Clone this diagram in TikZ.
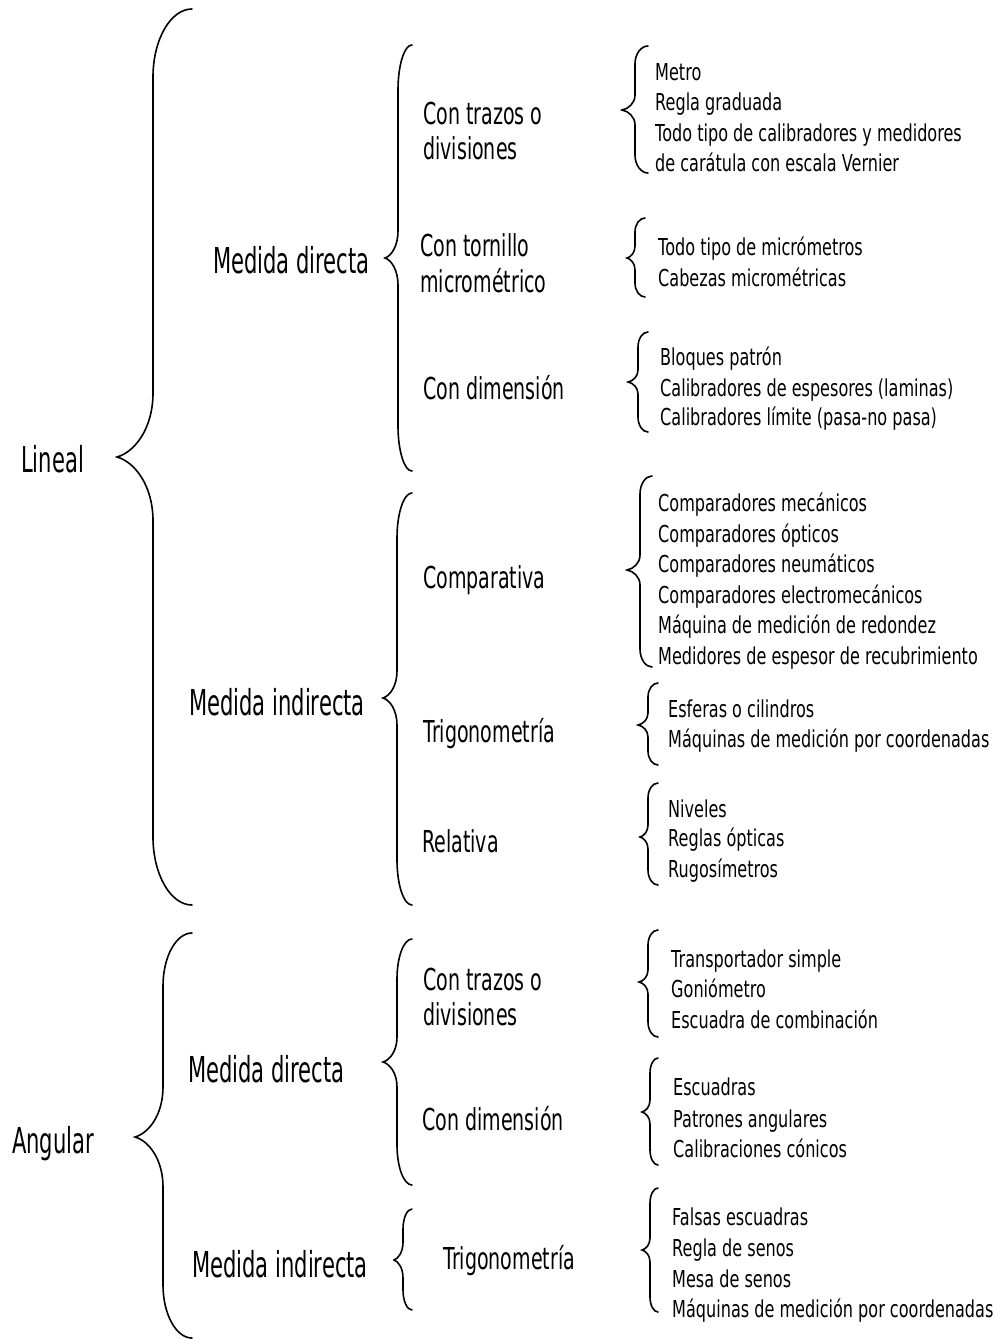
\documentclass[tikz,border=0pt]{standalone}
\usepackage{fontspec}
\newfontfamily\fA{DejaVu Sans}[FakeStretch=0.59]
\newfontfamily\fB{DejaVu Sans}[FakeStretch=0.63]
\newfontfamily\fC{DejaVu Sans}[FakeStretch=0.69]
\newcommand{\mybrace}[8]{% xend xline xtip ytop ymid ybot endDy tipDy
  \draw[bracestyle] (#1,#4) .. controls (#2+0.45*#1-0.45*#2,#4) and (#2,#4+0.45*#7) .. (#2,#4+#7)
  -- (#2,#5-#8) .. controls (#2,#5-0.45*#8) and (#3+0.5*#2-0.5*#3,#5-0.08*#8) .. (#3,#5)
  .. controls (#3+0.5*#2-0.5*#3,#5+0.08*#8) and (#2,#5+0.45*#8) .. (#2,#5+#8)
  -- (#2,#6-#7) .. controls (#2,#6-0.45*#7) and (#2+0.45*#1-0.45*#2,#6) .. (#1,#6);}
\tikzset{
  bracestyle/.style={draw=black, line width=1.6pt, line cap=round},
  lvA/.style={anchor=base west, inner sep=0pt, font=\fA\fontsize{35.7}{40}\selectfont},
  lvB/.style={anchor=base west, inner sep=0pt, font=\fB\fontsize{30.2}{34}\selectfont},
  lvC/.style={anchor=base west, inner sep=0pt, font=\fC\fontsize{23.3}{28}\selectfont},
}
\begin{document}
\begin{tikzpicture}[x=1pt,y=-1pt]
\useasboundingbox (0,0) rectangle (995,1340);
% level 1
\node[lvA] (lineal) at (21,472) {Lineal};
\node[lvA] (angular) at (12,1153) {Angular};
% level 2
\node[lvA] (ldir) at (213,273) {Medida directa};
\node[lvA] (lind) at (189,715) {Medida indirecta};
\node[lvA] (adir) at (188,1082) {Medida directa};
\node[lvA] (aind) at (192,1277) {Medida indirecta};
% level 3
\node[lvB] (ctr1) at (423,125) {Con trazos o};
\node[lvB] (ctr2) at (423,160) {divisiones};
\node[lvB] (ctor1) at (420,257) {Con tornillo};
\node[lvB] (ctor2) at (420,292) {micrométrico};
\node[lvB] (cdim) at (423,399) {Con dimensión};
\node[lvB] (comp) at (423,588) {Comparativa};
\node[lvB] (trig) at (423,742) {Trigonometría};
\node[lvB] (rel) at (422,852) {Relativa};
\node[lvB] (actr1) at (423,990) {Con trazos o};
\node[lvB] (actr2) at (423,1025) {divisiones};
\node[lvB] (acdim) at (422,1130) {Con dimensión};
\node[lvB] (atrig) at (443,1269) {Trigonometría};
% level 4
\node[lvC] (m1) at (655,81) {Metro};
\node[lvC] (m2) at (655,111) {Regla graduada};
\node[lvC] (m3) at (655,142) {Todo tipo de calibradores y medidores};
\node[lvC] (m4) at (655,172) {de carátula con escala Vernier};
\node[lvC] (t1) at (658,255) {Todo tipo de micrómetros};
\node[lvC] (t2) at (658,286) {Cabezas micrométricas};
\node[lvC] (b1) at (660,365) {Bloques patrón};
\node[lvC] (b2) at (660,396) {Calibradores de espesores (laminas)};
\node[lvC] (b3) at (660,425) {Calibradores límite (pasa-no pasa)};
\node[lvC] (c1) at (658,511) {Comparadores mecánicos};
\node[lvC] (c2) at (658,542) {Comparadores ópticos};
\node[lvC] (c3) at (658,572) {Comparadores neumáticos};
\node[lvC] (c4) at (658,603) {Comparadores electromecánicos};
\node[lvC] (c5) at (658,633) {Máquina de medición de redondez};
\node[lvC] (c6) at (658,664) {Medidores de espesor de recubrimiento};
\node[lvC] (e1) at (668,717) {Esferas o cilindros};
\node[lvC] (e2) at (668,747) {Máquinas de medición por coordenadas};
\node[lvC] (n1) at (668,817) {Niveles};
\node[lvC] (n2) at (668,846) {Reglas ópticas};
\node[lvC] (n3) at (668,877) {Rugosímetros};
\node[lvC] (p1) at (671,967) {Transportador simple};
\node[lvC] (p2) at (671,997) {Goniómetro};
\node[lvC] (p3) at (671,1028) {Escuadra de combinación};
\node[lvC] (s1) at (673,1095) {Escuadras};
\node[lvC] (s2) at (673,1127) {Patrones angulares};
\node[lvC] (s3) at (673,1157) {Calibraciones cónicos};
\node[lvC] (f1) at (672,1225) {Falsas escuadras};
\node[lvC] (f2) at (672,1256) {Regla de senos};
\node[lvC] (f3) at (672,1287) {Mesa de senos};
\node[lvC] (f4) at (672,1317) {Máquinas de medición por coordenadas};
% braces
\mybrace{192}{153}{117}{9}{457}{905}{68}{64}
\mybrace{412}{398}{385}{45}{258}{471}{45}{27}
\mybrace{412}{397}{383}{493}{698}{905}{45}{27}
\mybrace{192}{163}{135}{933}{1137}{1338}{53}{50}
\mybrace{412}{397}{383}{939}{1062}{1185}{40}{25}
\mybrace{412}{403}{394}{1209}{1260}{1310}{20}{18}
\mybrace{648}{635}{622}{46}{110}{173}{18}{15}
\mybrace{645}{635}{627}{218}{258}{297}{14}{12}
\mybrace{648}{638}{628}{332}{382}{432}{15}{12}
\mybrace{652}{640}{627}{476}{570}{667}{18}{15}
\mybrace{658}{648}{638}{683}{725}{765}{14}{12}
\mybrace{658}{648}{640}{783}{837}{885}{15}{12}
\mybrace{658}{648}{639}{930}{982}{1037}{15}{12}
\mybrace{658}{650}{642}{1058}{1112}{1165}{15}{12}
\mybrace{658}{650}{642}{1188}{1250}{1312}{15}{12}
\end{tikzpicture}
\end{document}
